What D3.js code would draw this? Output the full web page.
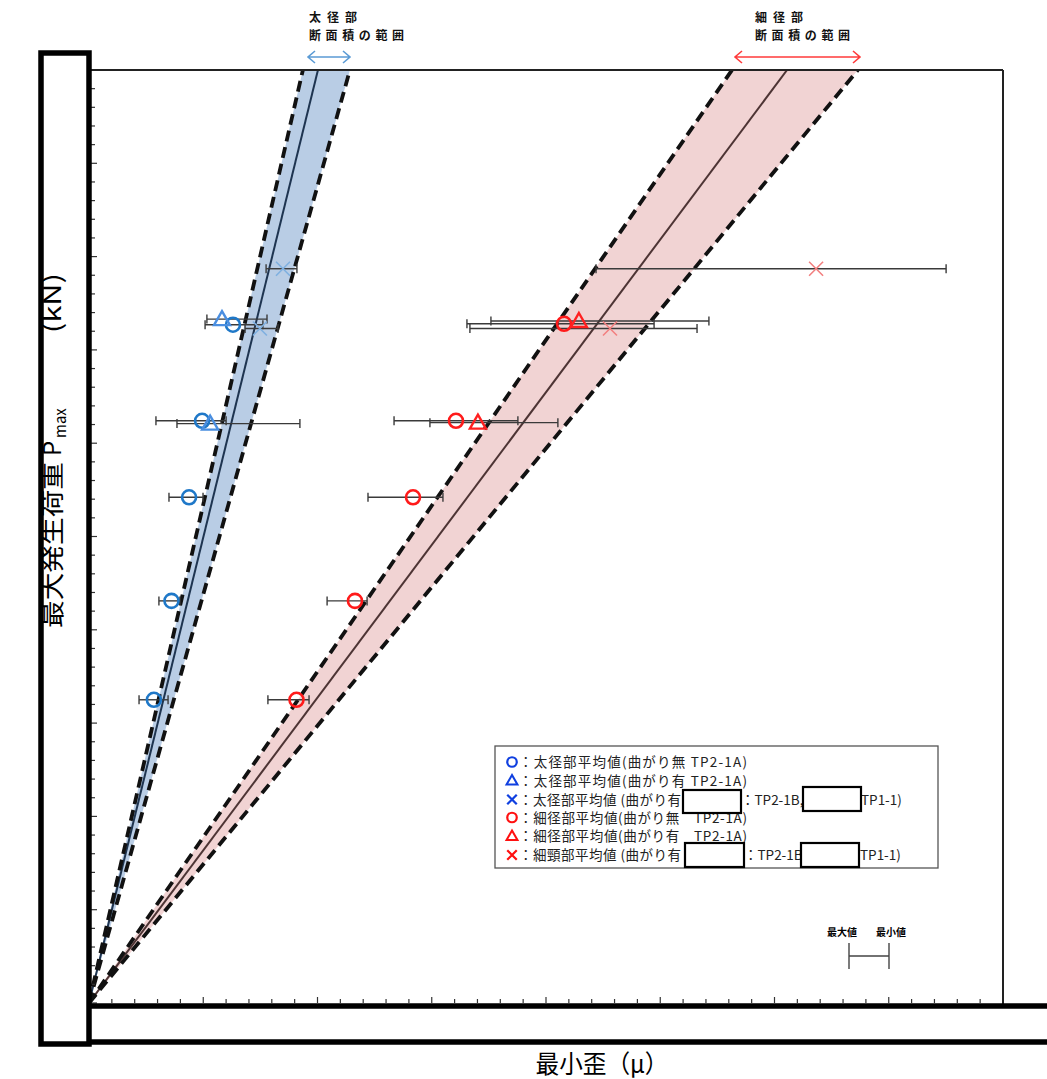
<!DOCTYPE html>
<html><head><meta charset="utf-8">
<script src="https://cdn.jsdelivr.net/npm/d3@7"></script>
<style>
body{margin:0;background:#fff}
svg{display:block}
text{font-family:"Noto Sans CJK JP","Noto Sans",sans-serif}
</style>
</head><body>
<svg id="c" width="1047" height="1079"></svg>
<script>
// ---- data ----
// range bands (x value reached at top of chart, y = 100)
const bandLo  = [936, 2814];
const bandMid = [1002, 3055];
const bandHi  = [1142, 3365];
const bandLabels = [["太径部","断面積の範囲"],["細径部","断面積の範囲"]];

const blueCircleX  = [284, 361, 438, 495, 630];
const blueCircleLo = [219, 306, 350, 293, 508];
const blueCircleHi = [346, 398, 499, 600, 761];
const blueCircleY  = [32.5, 43.1, 54.2, 62.4, 72.7];

const blueTriX  = [530, 582];
const blueTriLo = [385, 516];
const blueTriHi = [923, 779];
const blueTriY  = [62.1, 73.3];

const blueCrossX  = [748, 849];
const blueCrossLo = [683, 775];
const blueCrossHi = [827, 910];
const blueCrossY  = [72.3, 78.7];

const redCircleX  = [908, 1164, 1418, 1606, 2079];
const redCircleLo = [783, 1042, 1221, 1335, 1654];
const redCircleHi = [963, 1217, 1549, 1877, 2473];
const redCircleY  = [32.5, 43.1, 54.2, 62.4, 72.8];

const redTriX  = [1702, 2144];
const redTriLo = [1492, 1759];
const redTriHi = [2052, 2713];
const redTriY  = [62.2, 73.1];

const redCrossX  = [2280, 3182];
const redCrossLo = [1667, 2219];
const redCrossHi = [2661, 3751];
const redCrossY  = [72.3, 78.7];

const legendLabels = [
  "：太径部平均値(曲がり無 TP2-1A)",
  "：太径部平均値(曲がり有 TP2-1A)",
  "：太径部平均値 (曲がり有",
  "：細径部平均値(曲がり無　TP2-1A)",
  "：細径部平均値(曲がり有　TP2-1A)",
  "：細頸部平均値 (曲がり有"
];
const xTitle = "最小歪（μ）";
const yTitleParts = ["最大発生荷重", "P", "max", "(kN)"];

// ---- drawing ----
const svg = d3.select("#c");
const x = d3.scaleLinear([0, 4000], [89, 1003]);
const y = d3.scaleLinear([0, 100], [1003, 70]);

const defs = svg.append("defs");
defs.append("clipPath").attr("id","plot").append("rect")
  .attr("x",89).attr("y",70).attr("width",914).attr("height",933);

const g = svg.append("g").attr("clip-path","url(#plot)");
const fills = ["#b9cde5","#f1d3d3"];
const mids = ["#1e3450","#4d3434"];
[0,1].forEach(i=>{
  g.append("path")
    .attr("d", d3.line()([[x(0),y(0)],[x(bandLo[i]),y(100)],[x(bandHi[i]),y(100)]]) + "Z")
    .attr("fill", fills[i]);
});
[0,1].forEach(i=>{
  g.append("line").attr("x1",x(0)).attr("y1",y(0)).attr("x2",x(bandMid[i])).attr("y2",y(100))
    .attr("stroke",mids[i]).attr("stroke-width",2);
  [bandLo[i], bandHi[i]].forEach(v=>{
    g.append("line").attr("x1",x(0)).attr("y1",y(0)).attr("x2",x(v)).attr("y2",y(100))
      .attr("stroke","#111").attr("stroke-width",3.8).attr("stroke-dasharray","11,6");
  });
});

// error bars
function errBars(X, Lo, Hi, Y){
  const eg = svg.append("g").attr("stroke","#3a3a3a").attr("stroke-width",1.4);
  X.forEach((v,i)=>{
    const yy = y(Y[i]);
    eg.append("line").attr("x1",x(Lo[i])).attr("x2",x(Hi[i])).attr("y1",yy).attr("y2",yy);
    [Lo[i],Hi[i]].forEach(e=>eg.append("line").attr("x1",x(e)).attr("x2",x(e)).attr("y1",yy-4.5).attr("y2",yy+4.5));
  });
}
const allSeries = [
  [blueCircleX,blueCircleLo,blueCircleHi,blueCircleY],
  [blueTriX,blueTriLo,blueTriHi,blueTriY],
  [blueCrossX,blueCrossLo,blueCrossHi,blueCrossY],
  [redCircleX,redCircleLo,redCircleHi,redCircleY],
  [redTriX,redTriLo,redTriHi,redTriY],
  [redCrossX,redCrossLo,redCrossHi,redCrossY]
];
allSeries.forEach(s=>errBars(...s));

function drawMarker(sel, type, cx, cy, color, s){
  s = s||1;
  if(type==="o"){
    sel.append("circle").attr("cx",cx).attr("cy",cy).attr("r",7*s)
      .attr("fill","none").attr("stroke",color).attr("stroke-width",2.6*Math.max(s,0.85));
  } else if(type==="t"){
    const p = [[cx,cy-8*s],[cx+8*s,cy+6*s],[cx-8*s,cy+6*s]];
    sel.append("path").attr("d",d3.line()(p)+"Z").attr("fill","none")
      .attr("stroke",color).attr("stroke-width",2.4*Math.max(s,0.85));
  } else {
    const r = 7*s;
    sel.append("path").attr("d",`M${cx-r},${cy-r}L${cx+r},${cy+r}M${cx-r},${cy+r}L${cx+r},${cy-r}`)
      .attr("stroke",color).attr("stroke-width",1.6*(s<1?1.4:1)).attr("fill","none");
  }
}
const mk = svg.append("g");
const markerDefs = [["o","#1f78c8"],["t","#4a8ee0"],["x","#7fb0e0"],["o","#ff1a1a"],["t","#ff2020"],["x","#f28080"]];
allSeries.forEach((s,k)=>{
  s[0].forEach((v,i)=>drawMarker(mk, markerDefs[k][0], x(v), y(s[3][i]), markerDefs[k][1]));
});

// axis ticks
const tg = svg.append("g");
d3.range(0,101,2).forEach(t=>{
  const major = t%10===0;
  tg.append("line").attr("x1",91).attr("x2",91+(major?6:4)).attr("y1",y(t)).attr("y2",y(t))
    .attr("stroke","#333").attr("stroke-width",1.2);
});
d3.range(0,4001,100).forEach(t=>{
  const major = t%500===0;
  tg.append("line").attr("x1",x(t)).attr("x2",x(t)).attr("y1",1003).attr("y2",1003-(major?6:4))
    .attr("stroke","#333").attr("stroke-width",1.2);
});

// plot frame
svg.append("line").attr("x1",89).attr("x2",1003).attr("y1",70).attr("y2",70).attr("stroke","#222").attr("stroke-width",2);
svg.append("line").attr("x1",1003).attr("x2",1003).attr("y1",70).attr("y2",1005).attr("stroke","#222").attr("stroke-width",2);

// masking boxes
svg.append("rect").attr("x",42).attr("y",1006).attr("width",1020).attr("height",36)
  .attr("fill","#fff").attr("stroke","#000").attr("stroke-width",5.5);
svg.append("rect").attr("x",41).attr("y",53).attr("width",48).attr("height",991)
  .attr("fill","#fff").attr("stroke","#000").attr("stroke-width",5.5);

// axis titles
const yt = svg.append("g").attr("transform","translate(61,0) rotate(-90)");
yt.append("text").attr("x",-628).attr("y",0).attr("font-size",25).attr("textLength",166)
  .attr("lengthAdjust","spacingAndGlyphs").text(yTitleParts[0]);
yt.append("text").attr("x",-456).attr("y",0).attr("font-size",24).text(yTitleParts[1]);
yt.append("text").attr("x",-438).attr("y",5).attr("font-size",15).text(yTitleParts[2]);
yt.append("text").attr("x",-333).attr("y",0).attr("font-size",24).attr("textLength",60)
  .attr("lengthAdjust","spacingAndGlyphs").text(yTitleParts[3]);
svg.append("text").attr("x",602).attr("y",1073).attr("text-anchor","middle")
  .attr("font-size",25).attr("fill","#000").attr("textLength",133).attr("lengthAdjust","spacingAndGlyphs").text(xTitle);

// top annotations
const annX = [309, 755];
const arrowCol = ["#5b9bd5","#ff3b3b"];
const arrowFrom = [308, 735], arrowTo = [350, 860];
[0,1].forEach(i=>{
  bandLabels[i].forEach((t,j)=>{
    svg.append("text").attr("x",annX[i]).attr("y",22+j*18).attr("font-size",12)
      .attr("font-weight",700).attr("fill","#111")
      .attr("textLength", j===0?48:95).attr("lengthAdjust","spacing").text(t);
  });
  const a = svg.append("g").attr("stroke",arrowCol[i]).attr("stroke-width",1.6).attr("fill","none");
  const yy = 57, x1 = arrowFrom[i], x2 = arrowTo[i];
  a.append("path").attr("d",`M${x1},${yy}L${x2},${yy}M${x1+7},${yy-6}L${x1},${yy}L${x1+7},${yy+6}M${x2-7},${yy-6}L${x2},${yy}L${x2-7},${yy+6}`);
});

// legend
const lg = svg.append("g");
lg.append("rect").attr("x",495).attr("y",746).attr("width",443).attr("height",122)
  .attr("fill","#fff").attr("stroke","#555").attr("stroke-width",1.3);
const rowY = [762, 780.5, 799.5, 817.5, 836, 855];
const legendCols = ["#1040e0","#1040e0","#1040e0","#ff1010","#ff1010","#ff1010"];
rowY.forEach((ry,i)=>{
  drawMarker(lg, markerDefs[i][0], 512, ry, legendCols[i], 0.68);
  const t = lg.append("text").attr("x",519).attr("y",ry+5).attr("font-size",13.5).attr("fill","#222").text(legendLabels[i]);
  if(i!==2 && i!==5) t.attr("textLength",228).attr("lengthAdjust","spacing");
  else t.attr("textLength",162).attr("lengthAdjust","spacing");
});
lg.append("text").attr("x",741).attr("y",rowY[2]+5).attr("font-size",13.5).attr("fill","#222").text("：TP2-1B,");
lg.append("text").attr("x",861).attr("y",rowY[2]+5).attr("font-size",13.5).attr("fill","#222").text("TP1-1)");
lg.append("text").attr("x",744).attr("y",rowY[5]+5).attr("font-size",13.5).attr("fill","#222").text("：TP2-1B");
lg.append("text").attr("x",860).attr("y",rowY[5]+5).attr("font-size",13.5).attr("fill","#222").text("TP1-1)");
[[683,790,58,23],[803,787,58,24],[685,843,59,24],[801,843,58,24]].forEach(b=>{
  lg.append("rect").attr("x",b[0]).attr("y",b[1]).attr("width",b[2]).attr("height",b[3])
    .attr("fill","#fff").attr("stroke","#000").attr("stroke-width",2.2);
});

// error-bar key
const ek = svg.append("g");
ek.append("text").attr("x",842).attr("y",936).attr("text-anchor","middle").attr("font-size",10).attr("font-weight",700).text("最大値");
ek.append("text").attr("x",891).attr("y",936).attr("text-anchor","middle").attr("font-size",10).attr("font-weight",700).text("最小値");
ek.append("path").attr("d","M849,943L849,969M889,943L889,969M849,956L889,956")
  .attr("stroke","#444").attr("stroke-width",1.4).attr("fill","none");
</script>
</body></html>
